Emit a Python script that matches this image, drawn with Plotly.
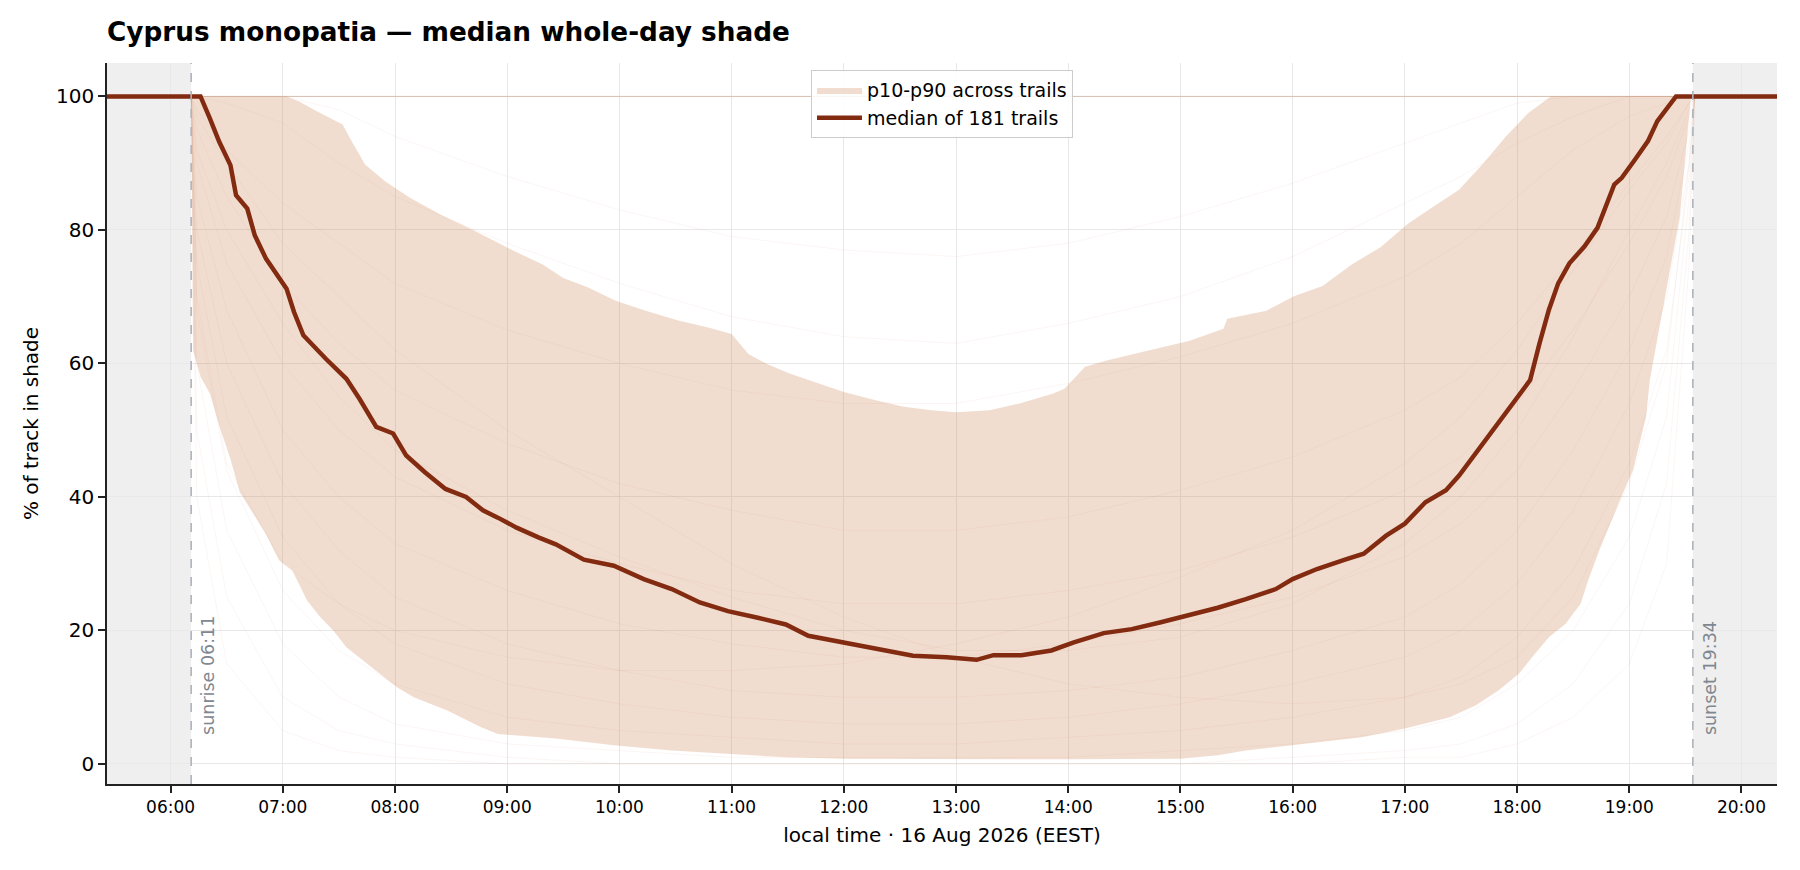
"""
Cyprus monopatia: median whole-day shade, p10-p90 band and single trails
"""
import pandas as pd
import plotly.graph_objects as go

DAY = "2026-08-16 "
SUNRISE = "06:11"
SUNSET = "19:34"
X_START, X_END = "05:26", "20:19"

# median of all trails
med_t = ["05:26", "06:16", "06:21", "06:26", "06:32", "06:35", "06:41", "06:45", "06:51",
         "06:56", "07:02", "07:06", "07:11", "07:23", "07:34", "07:41", "07:50", "07:59",
         "08:06", "08:16", "08:27", "08:38", "08:47", "08:55", "09:05", "09:17", "09:26",
         "09:41", "09:57", "10:13", "10:28", "10:43", "10:58", "11:14", "11:29", "11:41",
         "11:54", "12:16", "12:37", "12:55", "13:11", "13:20", "13:35", "13:51", "14:03",
         "14:19", "14:34", "14:49", "15:05", "15:20", "15:35", "15:51", "16:00", "16:13",
         "16:28", "16:38", "16:50", "17:00", "17:11", "17:22", "17:29", "17:42", "17:50",
         "17:59", "18:07", "18:12", "18:17", "18:22", "18:28", "18:36", "18:43", "18:52",
         "18:56", "19:03", "19:10", "19:15", "19:25", "20:19"]
med_v = [100, 100, 96.7, 93.2, 89.7, 85.2, 83.2, 79.2, 75.7,
         73.7, 71.2, 67.7, 64.2, 60.7, 57.7, 54.7, 50.5, 49.5,
         46.2, 43.7, 41.2, 40.0, 38.0, 36.9, 35.4, 33.9, 32.9,
         30.6, 29.7, 27.7, 26.2, 24.2, 22.9, 21.9, 20.9, 19.2,
         18.5, 17.2, 16.2, 16.0, 15.6, 16.3, 16.3, 17.0, 18.2,
         19.6, 20.2, 21.2, 22.4, 23.4, 24.7, 26.2, 27.7, 29.2,
         30.6, 31.5, 34.2, 36.0, 39.2, 41.0, 43.2, 48.0, 51.0,
         54.5, 57.5, 63.0, 68.0, 72.0, 75.0, 77.5, 80.3, 86.8,
         87.8, 90.5, 93.3, 96.3, 100, 100]

# 90th percentile across trails
p90_t = ["05:26", "06:11", "07:02", "07:09", "07:18", "07:32", "07:37", "07:44", "07:55",
         "08:08", "08:25", "08:43", "09:01", "09:19", "09:30", "09:43", "09:58", "10:14",
         "10:32", "10:47", "11:00", "11:09", "11:19", "11:31", "11:46", "12:00", "12:17",
         "12:32", "12:47", "13:00", "13:18", "13:34", "13:52", "13:58", "14:09", "14:20",
         "14:35", "14:50", "15:05", "15:23", "15:25", "15:46", "16:01", "16:16", "16:32",
         "16:47", "17:02", "17:18", "17:29", "17:42", "17:54", "18:06", "18:18", "20:19"]
p90_v = [100, 100, 100, 99.2, 97.8, 95.8, 93.2, 89.8, 87.2,
         84.8, 82.2, 79.8, 77.2, 74.8, 72.8, 71.4, 69.4, 67.9,
         66.4, 65.4, 64.4, 61.4, 59.9, 58.5, 57.0, 55.7, 54.5,
         53.5, 53.0, 52.7, 53.0, 54.0, 55.5, 56.2, 59.5, 60.4,
         61.4, 62.4, 63.4, 65.2, 66.7, 67.9, 70.1, 71.6, 74.9,
         77.4, 81.0, 84.0, 86.0, 90.0, 94.0, 97.5, 100, 100]

# 10th percentile across trails
p10_t = ["05:26", "06:11", "06:12", "06:16", "06:21", "06:26", "06:32", "06:37", "06:42",
         "06:51", "06:58", "07:05", "07:13", "07:20", "07:27", "07:34", "07:43", "07:52",
         "08:01", "08:10", "08:19", "08:28", "08:46", "08:55", "09:26", "09:57", "10:28",
         "10:58", "11:29", "12:00", "13:00", "14:00", "15:00", "15:20", "15:35", "16:06",
         "16:37", "17:00", "17:24", "17:38", "17:50", "18:01", "18:08", "18:17", "18:26",
         "18:34", "18:38", "18:44", "18:49", "18:55", "19:02", "19:05", "19:09", "19:11",
         "19:18", "19:27", "19:33", "20:19"]
p10_v = [100, 100, 62.0, 58.0, 55.5, 50.7, 45.7, 40.7, 38.5,
         34.4, 30.5, 29.0, 24.5, 22.0, 20.0, 17.5, 15.5, 13.5,
         11.5, 10.0, 9.0, 8.0, 5.5, 4.5, 3.8, 2.8, 2.0,
         1.5, 1.0, 0.8, 0.7, 0.7, 0.8, 1.3, 2.0, 3.0,
         4.0, 5.3, 7.0, 8.8, 11.0, 13.5, 16.0, 19.0, 21.0,
         24.0, 27.5, 32.0, 35.5, 39.5, 44.0, 47.5, 52.0, 57.5,
         68.0, 82.0, 100, 100]

# a few of the individual trails (faint lines)
trail_t = ["05:26", "06:11", "06:14", "06:30", "07:00", "07:30", "08:00", "09:00", "10:00",
           "11:00", "12:00", "13:00", "14:00", "15:00", "16:00", "17:00", "17:30", "18:00",
           "18:30", "19:00", "19:20", "19:32", "19:35", "20:19"]
trails = [
    [100, 100, 100, 100, 100, 98, 94, 88, 83, 79, 77, 76, 78, 82, 87, 93, 96, 99, 100, 100, 100, 100, 100, 100],
    [100, 100, 100, 99, 96, 90, 85, 78, 72, 67, 64, 63, 66, 70, 76, 84, 88, 93, 97, 100, 100, 100, 100, 100],
    [100, 100, 98, 92, 84, 78, 72, 65, 60, 56, 54, 54, 57, 61, 66, 73, 78, 85, 92, 97, 99, 100, 100, 100],
    [100, 100, 95, 85, 72, 63, 56, 48, 42, 38, 35, 35, 37, 41, 46, 53, 58, 66, 76, 87, 94, 99, 100, 100],
    [100, 100, 90, 75, 60, 50, 43, 35, 30, 26, 24, 24, 26, 29, 34, 41, 46, 54, 65, 78, 88, 97, 100, 100],
    [100, 100, 85, 68, 50, 40, 33, 26, 21, 18, 16, 16, 18, 21, 25, 31, 36, 44, 56, 70, 82, 95, 100, 100],
    [100, 100, 80, 60, 42, 32, 25, 18, 14, 11, 10, 10, 11, 13, 17, 22, 27, 35, 47, 62, 76, 93, 100, 100],
    [100, 100, 75, 52, 34, 24, 18, 12, 9, 7, 6, 6, 7, 9, 12, 16, 20, 27, 38, 54, 70, 90, 100, 100],
    [100, 100, 68, 44, 26, 17, 12, 7, 5, 4, 3, 3, 4, 5, 7, 10, 13, 19, 29, 45, 62, 88, 100, 100],
    [100, 100, 60, 35, 18, 10, 6, 3, 2, 1, 1, 1, 1, 2, 3, 5, 7, 12, 20, 34, 52, 85, 100, 100],
    [100, 100, 50, 25, 10, 5, 3, 1, 0, 0, 0, 0, 0, 0, 1, 2, 3, 6, 12, 24, 42, 80, 100, 100],
    [100, 100, 40, 15, 5, 2, 1, 0, 0, 0, 0, 0, 0, 0, 0, 1, 1, 3, 7, 15, 30, 75, 100, 100],
    [100, 100, 92, 80, 66, 55, 47, 38, 31, 25, 20, 17, 17, 19, 24, 33, 40, 50, 64, 80, 90, 98, 100, 100],
    [100, 100, 97, 90, 78, 70, 62, 50, 40, 30, 22, 16, 12, 10, 9, 10, 12, 16, 25, 42, 60, 90, 100, 100],
    [100, 100, 70, 45, 30, 24, 20, 16, 14, 14, 15, 18, 22, 28, 35, 45, 52, 62, 74, 86, 93, 99, 100, 100],
]
# trails that stay fully shaded the whole day (drawn as one line at 100)
n_full_shade = 5
n_trails = 181


def ts(hhmm):
    return pd.to_datetime([DAY + h for h in hhmm])


FONT = "DejaVu Sans"
MED_COLOR = "#832b10"
TRAIL_ALPHA = 0.07

fig = go.Figure()

# band p10-p90 as one closed polygon
band_x = list(ts(p90_t)) + list(ts(p10_t))[::-1]
band_y = p90_v + p10_v[::-1]
fig.add_trace(go.Scatter(
    x=band_x, y=band_y, fill="toself", mode="lines",
    line=dict(width=0), fillcolor="rgba(205,130,80,0.27)",
    name="p10-p90 across trails", hoverinfo="skip",
))

for tr in trails:
    fig.add_trace(go.Scatter(
        x=ts(trail_t), y=tr, mode="lines",
        line=dict(color=f"rgba(190,100,50,{TRAIL_ALPHA})", width=0.8),
        showlegend=False, hoverinfo="skip",
    ))

# overlapping fully shaded trails stack their transparency
full_alpha = 1 - (1 - TRAIL_ALPHA) ** n_full_shade
fig.add_trace(go.Scatter(
    x=ts([X_START, X_END]), y=[100, 100], mode="lines",
    line=dict(color=f"rgba(180,95,45,{full_alpha:.3f})", width=1),
    showlegend=False, hoverinfo="skip",
))

fig.add_trace(go.Scatter(
    x=ts(med_t), y=med_v, mode="lines",
    line=dict(color=MED_COLOR, width=4.5),
    name=f"median of {n_trails} trails",
))

# night shading + sunrise / sunset markers
x0, x1 = DAY + X_START, DAY + X_END
sr, ss = DAY + SUNRISE, DAY + SUNSET
for a, b in [(x0, sr), (ss, x1)]:
    fig.add_shape(type="rect", xref="x", yref="paper", x0=a, x1=b, y0=0, y1=1,
                  fillcolor="#efefef", line_width=0, layer="below")
for t in [sr, ss]:
    fig.add_shape(type="line", xref="x", yref="paper", x0=t, x1=t, y0=0, y1=1,
                  line=dict(color="#aeb3ba", width=1.6, dash="dash"), layer="above")

for t, label in [(sr, f"sunrise {SUNRISE}"), (ss, f"sunset {SUNSET}")]:
    fig.add_annotation(x=t, y=4, xref="x", yref="y", text=label, textangle=-90,
                       showarrow=False, xanchor="left", yanchor="bottom", xshift=5,
                       font=dict(family=FONT, size=17.5, color="#7f8790"))

# page body has an 8px margin, so the figure is a bit smaller than the window
W, H = 1784, 854
fig.update_layout(
    width=W, height=H,
    margin=dict(l=99, r=15, t=55, b=78),
    paper_bgcolor="white", plot_bgcolor="rgba(0,0,0,0)",
    font=dict(family=FONT, color="black"),
    title=dict(text="<b>Cyprus monopatia — median whole-day shade</b>",
               x=99 / W, xanchor="left", xref="container",
               y=1 - 24 / H, yanchor="middle", yref="container",
               font=dict(family=FONT, size=26.3, color="black")),
    legend=dict(x=0.5, xanchor="center", y=0.99, yanchor="top",
                bgcolor="rgba(255,255,255,0.85)", bordercolor="#cccccc", borderwidth=1,
                font=dict(family=FONT, size=19), tracegroupgap=0, itemwidth=45),
    showlegend=True,
)

fig.update_xaxes(
    range=[x0, x1], type="date", tickformat="%H:%M", dtick=3600000,
    tick0=DAY + "06:00",
    showline=True, linecolor="#222", linewidth=1.6, mirror=False,
    ticks="outside", ticklen=7, tickwidth=1.6, tickcolor="#222",
    tickfont=dict(family=FONT, size=17),
    showgrid=True, gridcolor="#e8e8e8", gridwidth=1.3, zeroline=False,
    title=dict(text="local time · 16 Aug 2026 (EEST)", standoff=12,
               font=dict(family=FONT, size=20)),
)
fig.update_yaxes(
    range=[-3, 105], tickvals=[0, 20, 40, 60, 80, 100],
    showline=True, linecolor="#222", linewidth=1.6, mirror=False,
    ticks="outside", ticklen=7, tickwidth=1.6, tickcolor="#222",
    tickfont=dict(family=FONT, size=20),
    showgrid=True, gridcolor="#e8e8e8", gridwidth=1.3, zeroline=False,
    title=dict(text="% of track in shade", standoff=12,
               font=dict(family=FONT, size=20)),
)

fig.write_html("out.html")
